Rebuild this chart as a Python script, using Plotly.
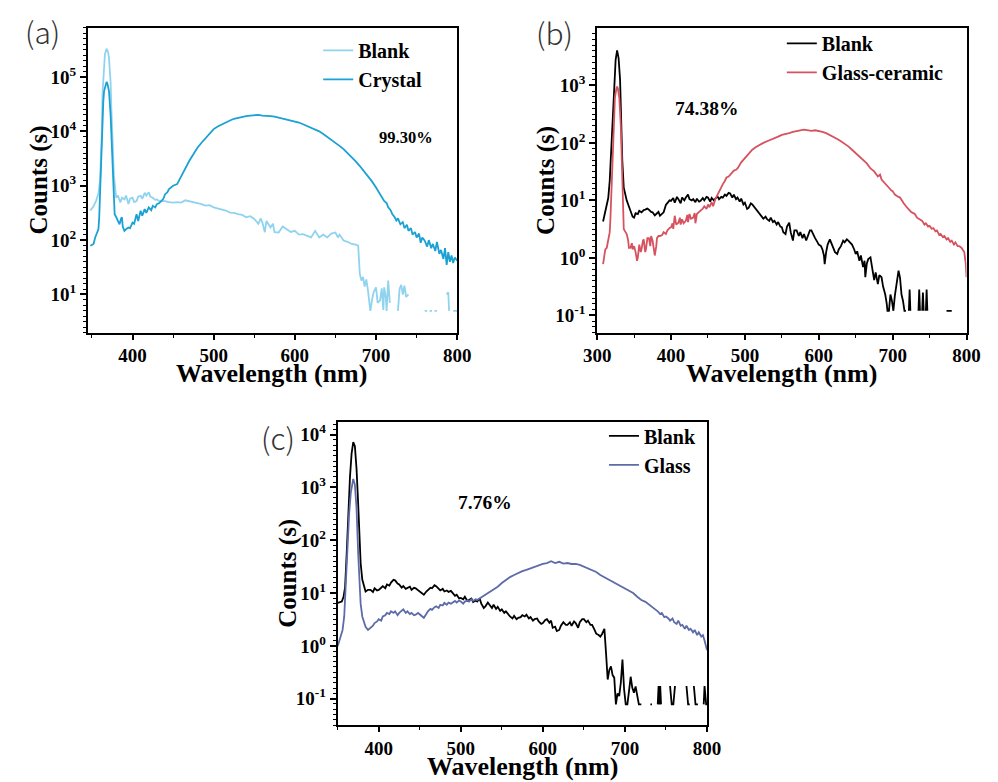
import plotly.graph_objects as go

# ---------------- data ----------------
# Panel (a)
a_blank_wl = [348, 352, 355, 358, 360, 362, 363, 365, 366, 368, 370, 371, 373, 374, 376, 377, 379, 380, 382, 385,
              387, 390, 392, 395, 397, 400, 402, 405, 407, 410, 412, 415, 417, 420, 422, 425, 428, 430, 433, 435,
              440, 445, 450, 455, 460, 465, 470, 475, 480, 485, 490, 495, 500, 505, 510, 515, 520, 525, 530, 535,
              540, 545, 550, 555, 558, 560, 563, 565, 570, 573, 575, 580, 585, 590, 595, 600, 605, 610, 615, 620,
              625, 628, 630, 635, 640, 645, 650, 653, 655, 660, 665, 670, 675, 678, 680, 682, 684, 686, 688, 690,
              692, 693, 695, 697, 700, 702, 705, 707, 709, 710, 712, 713, 715, 717, 718,
              727, 729, 731, 733, 735, 737, 740, 741,
              760, 763, 764, 766, 769, 770, 772, 775, 776,
              787, 789, 790, 791, 795, 800]
a_blank_ct = [350, 420, 520, 710, 1230, 7900, 48000, 160000, 263000, 330000, 282000, 224000, 79000, 25000, 4000, 1580, 790, 600, 660, 490,
              600, 560, 660, 460, 575, 600, 500, 520, 630, 650, 575, 740, 660, 760, 630, 600, 550, 560, 520, 520,
              520, 500, 490, 500, 490, 540, 520, 500, 490, 460, 430, 440, 400, 380, 370, 350, 320, 316, 300, 290,
              263, 275, 245, 200, 250, 210, 140, 225, 170, 200, 140, 138, 178, 158, 141, 148, 126, 129, 120, 112,
              148, 120, 112, 126, 112, 132, 138, 112, 126, 98, 93, 85, 83, 79, 24, 18, 21, 14, 19, 12,
              6.3, 5, 7.9, 11, 13.5, 7, 7.8, 13, 5.2, 13.5, 9, 5, 18, 7, None,
              5, 12.6, 15, 10, 14.5, 9, 10, None,
              5, 5, None, 5, 5, None, 5, 5, None,
              10, 11, 5, None, 5, 5]

a_cry_wl = [348, 350, 352, 354, 356, 358, 359, 361, 362, 364, 365, 367, 368, 369, 371, 373, 374, 376, 377, 378,
            380, 382, 384, 386, 387, 388, 390, 392, 395, 397, 400, 402, 405, 407, 410, 412, 415, 417, 420, 423,
            425, 428, 430, 433, 435, 438, 440, 443, 445, 448, 450, 455, 460, 465, 470, 475, 480, 485, 490, 495,
            500, 505, 510, 515, 520, 525, 530, 535, 540, 545, 550, 555, 560, 565, 570, 575, 580, 585, 590, 595,
            600, 605, 610, 615, 620, 625, 630, 635, 640, 645, 650, 655, 660, 665, 670, 675, 680, 685, 690, 695,
            700, 705, 710, 713, 715, 718, 720, 723, 725, 727, 730, 733, 735, 738, 740, 743, 745, 748, 750, 753,
            755, 757, 760, 763, 765, 768, 770, 773, 775, 778, 780, 783, 785, 787, 789, 791, 793, 795, 797, 800]
a_cry_ct = [79, 83, 85, 112, 129, 158, 263, 2500, 8900, 35000, 55000, 76000, 81000, 76000, 55000, 20000, 8900, 2100, 790, 300,
            263, 224, 195, 250, 263, 178, 148, 158, 170, 166, 209, 200, 300, 224, 347, 282, 372, 316, 398, 355,
            427, 398, 457, 479, 525, 575, 692, 759, 871, 933, 1000, 1070, 1510, 2140, 2880, 3800, 5000, 6170, 7590, 9120,
            11000, 12300, 13500, 14800, 15800, 17000, 17800, 18600, 19100, 19500, 20000, 20000, 19500, 19500, 19100, 18600, 17800, 17400, 16600, 15800,
            15100, 14500, 13500, 12600, 11700, 11000, 10000, 8900, 7900, 7100, 6200, 5400, 4700, 4000, 3400, 2800, 2300, 1860, 1500, 1200,
            930, 710, 525, 480, 400, 355, 300, 263, 229, 251, 195, 214, 166, 191, 148, 166, 126, 141, 112, 132,
            89, 112, 98, 76, 100, 71, 85, 63, 93, 56, 66, 45, 71, 35, 60, 40, 52, 38, 48, 42]

# Panel (b)
b_blank_wl = [308, 311, 313, 315, 317, 319, 321, 323, 325, 327, 329, 331, 333, 334, 336, 338, 340, 342, 344, 346,
              348, 350, 352, 355, 357, 360, 363, 365, 368, 370, 373, 375, 378, 380, 383, 385, 388, 390, 393, 395,
              398, 400, 403, 405, 408, 410, 413, 415, 418, 420, 423, 425, 428, 430, 433, 435, 438, 440, 443, 445,
              448, 450, 453, 455, 458, 460, 463, 465, 468, 470, 473, 475, 478, 480, 483, 485, 488, 490, 493, 495,
              498, 500, 503, 505, 508, 510, 513, 515, 518, 520, 523, 525, 528, 530, 533, 535, 538, 540, 543, 545,
              548, 550, 552, 555, 557, 560, 562, 565, 567, 570, 573, 575, 578, 580, 583, 585, 588, 590, 593, 595,
              598, 600, 603, 605, 607, 608, 610, 612, 615, 617, 620, 622, 625, 627, 630, 633, 635, 638, 640, 643,
              645, 648, 650, 652, 655, 657, 660, 662, 663, 665, 667, 670, 672, 675, 677, 680, 682, 685, 687, 690,
              692, 693, 695, 697, 699, 701, 703, 705, 707, 708, 710, 712, 714, 716, 718, 719,
              722, 723, 724, 725, 735, 736, 737, 738, 740, 741, 742, 743, 745, 746, 747, 748, 773, 780]
b_blank_ct = [4.3, 6.3, 8.3, 11, 22, 79, 355, 1260, 2800, 4070, 3000, 1260, 138, 50, 16.6, 12.6, 10, 8.5, 7.1, 5.8,
              5.2, 5.0, 6.0, 5.8, 6.6, 6.2, 6.8, 6.9, 7.2, 6.9, 6.3, 6.2, 5.5, 5.8, 6.3, 5.4, 5.8, 6.2, 8.3, 9.1,
              10, 9.8, 11, 9.1, 11.5, 10.5, 8.9, 11.2, 10, 11.2, 12.6, 10.5, 10, 10.5, 9.3, 10.7, 9.5, 9.8, 11, 10,
              11.5, 11.2, 9.5, 11, 10, 10.7, 11.7, 10.5, 11.5, 11.2, 12.6, 12, 13.5, 13.2, 11.2, 12.6, 10.5, 11.2, 9.5, 10.7,
              8.5, 9.1, 7.1, 7.4, 8.9, 8.5, 7.6, 6.9, 6.3, 5.8, 5.0, 4.8, 5.2, 4.7, 4.4, 5.0, 4.2, 4.4, 3.8, 4.2,
              3.5, 3.4, 2.8, 2.6, 3.5, 4.1, 2.8, 2.0, 3.0, 3.0, 2.4, 2.8, 2.2, 2.6, 2.0, 2.4, 3.0, 3.0, 2.4, 2.2,
              1.9, 1.7, 1.6, 1.4, 1.1, 0.78, 1.26, 1.7, 2.1, 1.8, 1.5, 1.26, 1.17, 1.4, 1.6, 1.99, 1.86, 2.1, 2.0, 1.8,
              1.7, 1.4, 1.17, 1.3, 0.89, 1.1, 0.69, 0.89, 0.46, 0.79, 0.95, 1.02, 0.71, 0.41, 0.56, 0.35, 0.5, 0.46, 0.32, 0.23,
              0.16, 0.12, 0.12, 0.23, 0.18, 0.12, 0.22, 0.31, 0.5, 0.6, 0.45, 0.23, 0.18, 0.12, 0.12, None,
              0.12, 0.28, 0.12, None, 0.12, 0.28, 0.12, None, 0.12, 0.25, 0.12, None, 0.12, 0.28, 0.12, None, 0.12, 0.12]

b_gc_wl = [308, 310, 311, 313, 315, 317, 318, 320, 321, 323, 324, 326, 327, 328, 330, 332, 333, 334, 335, 336,
           337, 339, 340, 342, 343, 345, 347, 348, 350, 352, 354, 355, 357, 359, 360, 362, 363, 365, 366, 368,
           370, 372, 373, 375, 377, 378, 380, 381, 383, 385, 388, 390, 393, 395, 398, 400, 402, 403, 405, 407,
           410, 412, 413, 415, 417, 420, 422, 423, 425, 427, 430, 432, 433, 435, 438, 440, 443, 445, 448, 450,
           452, 455, 457, 460, 463, 465, 468, 470, 473, 475, 478, 480, 483, 485, 488, 490, 495, 500, 505, 510,
           515, 520, 525, 530, 535, 540, 545, 550, 555, 560, 565, 570, 575, 580, 585, 590, 595, 600, 605, 610,
           615, 620, 625, 630, 635, 640, 645, 650, 655, 660, 665, 670, 675, 680, 683, 685, 688, 690, 693, 695,
           698, 700, 703, 705, 708, 710, 713, 715, 718, 720, 723, 725, 728, 730, 733, 735, 738, 740, 743, 745,
           748, 750, 753, 755, 758, 760, 763, 765, 768, 770, 773, 775, 778, 780, 783, 785, 788, 790, 793, 795,
           797, 799, 800]
b_gc_ct = [0.78, 1.26, 1.4, 1.5, 2.0, 2.8, 5.0, 20, 71, 280, 600, 890, 955, 890, 600, 200, 71, 16, 6.6, 3.2,
           3.0, 2.7, 2.6, 2.0, 1.5, 1.5, 1.8, 1.4, 1.6, 1.26, 0.89, 1.0, 1.7, 1.26, 1.4, 2.0, 2.1, 1.26, 1.4, 2.2,
           2.2, 1.6, 2.4, 2.0, 1.4, 1.1, 1.6, 2.2, 2.4, 2.4, 2.5, 2.8, 2.6, 3.0, 3.3, 3.4, 4.0, 3.2, 5.4, 3.8,
           4.1, 5.0, 3.8, 4.7, 4.0, 4.4, 5.6, 4.2, 5.8, 4.8, 5.0, 6.0, 4.0, 5.8, 6.3, 6.6, 7.2, 7.9, 7.1, 8.5,
           7.6, 9.3, 7.9, 10.5, 12.6, 14, 18, 19, 22, 25, 26, 28, 30, 33, 34, 36, 46, 55, 66, 76,
           85, 93, 100, 107, 115, 123, 129, 138, 141, 148, 155, 158, 166, 170, 166, 162, 166, 162, 155, 148,
           138, 129, 117, 107, 98, 87, 76, 66, 59, 51, 44, 36, 32, 26, 28, 23, 21, 20, 18, 16.6,
           15, 14.5, 12.6, 12.3, 11.5, 11.2, 9.5, 8.9, 7.9, 7.4, 6.6, 6.3, 6.0, 5.8, 5.0, 4.8, 4.6, 4.4, 3.8, 4.0,
           3.5, 3.6, 3.2, 3.3, 2.9, 3.0, 2.5, 2.6, 2.3, 2.4, 2.1, 2.2, 1.9, 2.0, 1.7, 1.86, 1.6, 1.6, 1.5, 1.4,
           1.26, 0.79, 0.46]

# Panel (c)
c_blank_wl = [350, 352, 355, 357, 359, 361, 363, 365, 367, 369, 371, 373, 375, 377, 378, 380, 381, 383, 384, 387,
              390, 393, 395, 398, 400, 403, 405, 408, 410, 413, 415, 418, 420, 423, 425, 428, 430, 433, 435, 438,
              440, 443, 445, 448, 450, 453, 455, 458, 460, 463, 465, 468, 470, 473, 475, 478, 480, 483, 485, 488,
              490, 493, 495, 498, 500, 503, 505, 508, 510, 513, 515, 518, 520, 523, 525, 528, 530, 533, 535, 538,
              540, 543, 545, 548, 550, 553, 555, 558, 560, 563, 565, 568, 570, 573, 575, 578, 580, 583, 585, 588,
              590, 593, 595, 598, 600, 603, 605, 608, 610, 612, 615, 617, 620, 622, 625, 628, 630, 633, 635, 638,
              640, 643, 645, 648, 650, 653, 655, 658, 660, 663, 665, 668, 670, 672, 675, 677, 679, 681, 683, 685,
              687, 689, 691, 693, 695, 697, 699, 701, 703, 705, 707, 709, 711, 713, 715, 717, 720, 721,
              731, 733, 734, 740, 741, 742, 743, 744, 745, 755, 757, 759, 761, 762,
              775, 777, 779, 780, 784, 786, 789, 790, 796, 797, 799, 800]
c_blank_ct = [6.5, 6.6, 6.9, 8.3, 12.6, 56, 400, 1580, 4400, 7200, 6000, 2240, 490, 79, 37, 18, 15.5, 11.5, 10.7, 11.5,
              11.5, 10.5, 12.3, 11.2, 11.5, 12.6, 13.5, 12.3, 14.5, 13.8, 15.8, 17.8, 17.4, 15.1, 14.5, 12.6, 13.5, 12, 12.3, 13.2,
              11.5, 12.6, 12.3, 11.2, 10.7, 9.5, 9.3, 10.7, 11.5, 12.6, 12.3, 14.1, 13.5, 12, 11.2, 12, 10.7, 11.2, 10.5, 11,
              10, 8.9, 9.3, 7.9, 8.1, 7.6, 8.5, 7.1, 7.4, 7.9, 6.8, 7.2, 6.9, 7.9, 6.3, 5.2, 5.6, 6.6, 6.0, 5.2,
              6.0, 5.0, 5.5, 4.6, 4.9, 4.2, 4.5, 3.8, 3.6, 3.3, 3.7, 3.2, 3.4, 3.5, 3.8, 3.6, 3.9, 3.3, 3.5, 3.0,
              3.2, 3.3, 2.9, 2.6, 2.7, 3.1, 3.2, 2.75, 3.0, 2.2, 2.3, 1.9, 2.0, 2.4, 2.8, 2.5, 2.5, 2.8, 2.4, 2.9,
              2.7, 2.2, 2.8, 3.2, 3.2, 2.8, 3.0, 2.5, 2.5, 2.0, 1.7, 1.6, 1.5, 1.66, 2.1, 0.72, 0.23, 0.35, 0.41, 0.28,
              0.25, 0.078, 0.126, 0.112, 0.2, 0.55, 0.15, 0.078, 0.078, 0.14, 0.26, 0.16, 0.13, 0.17, 0.11, 0.078, 0.078, None,
              0.078, 0.078, None, 0.078, 0.174, 0.078, 0.174, 0.078, None, 0.174, 0.078, 0.078, 0.174, None,
              0.174, 0.078, 0.078, None, 0.174, 0.078, 0.078, None, 0.078, 0.174, 0.078, 0.078]

c_glass_wl = [350, 352, 354, 356, 358, 360, 362, 364, 366, 368, 369, 371, 373, 375, 377, 378, 380, 382, 384, 387,
              390, 393, 395, 398, 400, 403, 405, 408, 410, 413, 415, 418, 420, 423, 425, 428, 430, 433, 435, 438,
              440, 443, 445, 448, 450, 453, 455, 458, 460, 463, 465, 468, 470, 473, 475, 478, 480, 483, 485, 488,
              490, 493, 495, 498, 500, 503, 505, 508, 510, 513, 515, 518, 520, 525, 530, 535, 540, 545, 550, 555,
              560, 565, 570, 575, 580, 585, 590, 595, 600, 605, 610, 615, 620, 625, 630, 635, 640, 645, 650, 655,
              660, 665, 670, 675, 680, 685, 690, 695, 700, 705, 710, 715, 720, 725, 730, 735, 740, 743, 745, 748,
              750, 753, 755, 758, 760, 763, 765, 768, 770, 773, 775, 778, 780, 783, 785, 788, 790, 793, 795, 797,
              800]
c_glass_ct = [0.98, 1.26, 1.5, 2.0, 3.6, 16, 100, 320, 790, 1320, 1450, 1120, 400, 56, 10, 6.3, 3.6, 2.8, 2.3, 2.0,
              2.2, 2.4, 2.7, 2.9, 3.2, 3.0, 3.6, 3.8, 4.2, 4.0, 4.5, 4.2, 4.5, 3.8, 4.2, 4.7, 4.9, 4.2, 4.5, 4.0,
              4.2, 3.8, 3.9, 4.2, 3.9, 3.5, 3.4, 4.0, 4.5, 5.0, 4.8, 5.4, 5.6, 5.2, 6.0, 5.8, 6.5, 6.0, 6.6, 6.3,
              6.6, 7.1, 6.6, 7.2, 6.9, 6.3, 6.9, 7.2, 6.9, 7.6, 7.1, 7.6, 7.4, 8.3, 9.3, 10.5, 11.5, 13.2, 15.5, 17.8,
              20, 22, 24, 26, 27.5, 29.5, 31.6, 33, 35.5, 37, 40, 37, 39, 36, 37, 35.5, 35.5, 34, 31.6, 29.5,
              27, 25, 22, 20, 17.8, 16.2, 14.5, 13.2, 12.3, 11, 10, 8.5, 7.4, 6.8, 6.0, 5.2, 4.5, 4.0, 4.2, 3.5,
              3.6, 3.3, 3.0, 3.3, 2.8, 2.6, 3.0, 2.4, 2.5, 2.1, 2.4, 2.0, 2.1, 1.8, 2.0, 1.6, 1.8, 1.5, 1.6, 1.26,
              0.83]

# labels
a_names = ["Blank", "Crystal"]
b_names = ["Blank", "Glass-ceramic"]
c_names = ["Blank", "Glass"]
a_pct, b_pct, c_pct = "99.30%", "74.38%", "7.76%"
panel_tags = ["(a)", "(b)", "(c)"]
x_title = "Wavelength (nm)"
y_title = "Counts (s)"

# ---------------- styling ----------------
W, H = 998, 782
SERIF = "Liberation Serif"
C_A_BLANK, C_A_CRY = "#90d3ee", "#1ba1d3"
C_BLACK, C_GC, C_GLASS = "#000000", "#d6525f", "#5e6ba9"


def dx(px):
    return px / W


def dy(py):
    return 1 - py / H


boxes = {  # left, right, top, bottom in pixels
    "a": (76, 456, 27, 332),
    "b": (600, 980, 27, 332),
    "c": (333, 713, 422, 725),
}

fig = go.Figure()


def add(x, y, name, color, axis_suffix, legend):
    fig.add_trace(go.Scatter(
        x=x, y=y, name=name, mode="lines",
        line=dict(color=color, width=1.8),
        connectgaps=False,
        xaxis="x" + axis_suffix, yaxis="y" + axis_suffix, legend=legend,
    ))


add(a_blank_wl, a_blank_ct, a_names[0], C_A_BLANK, "", "legend")
add(a_cry_wl, a_cry_ct, a_names[1], C_A_CRY, "", "legend")
add(b_blank_wl, b_blank_ct, b_names[0], C_BLACK, "2", "legend2")
add(b_gc_wl, b_gc_ct, b_names[1], C_GC, "2", "legend2")
add(c_blank_wl, c_blank_ct, c_names[0], C_BLACK, "3", "legend3")
add(c_glass_wl, c_glass_ct, c_names[1], C_GLASS, "3", "legend3")


def sup(n):
    return "10<sup>%d</sup>" % n


def yaxis(box, lo, hi, exps):
    l, r, t, b = box
    minor_vals = []
    for e in range(int(lo) - 2, int(hi) + 1):
        for k in range(1, 10):
            minor_vals.append(10 ** (e + k / 10))
    return dict(
        type="log", range=[lo, hi], domain=[dy(b), dy(t)],
        tickmode="array", tickvals=[10 ** e for e in exps], ticktext=[sup(e) for e in exps],
        ticks="outside", ticklen=6, tickwidth=2, tickcolor="black",
        minor=dict(tickmode="array", tickvals=minor_vals, ticks="outside", ticklen=3, tickwidth=1.2,
                   tickcolor="black", showgrid=False),
        showline=True, linecolor="black", linewidth=2, mirror=True,
        showgrid=False, zeroline=False,
        tickfont=dict(family=SERIF, size=19, color="black", weight="bold"),
    )


def xaxis(box, lo, hi, vals):
    l, r, t, b = box
    return dict(
        range=[lo, hi], domain=[dx(l), dx(r)],
        tickmode="array", tickvals=vals, ticktext=[str(v) for v in vals],
        ticks="outside", ticklen=5, tickwidth=2, tickcolor="black",
        minor=dict(dtick=50, tick0=0, ticks="outside", ticklen=3, tickwidth=1.2, tickcolor="black",
                   showgrid=False),
        showline=True, linecolor="black", linewidth=2, mirror=True,
        showgrid=False, zeroline=False,
        tickfont=dict(family=SERIF, size=19, color="black", weight="bold"),
    )


def legend(x_px, y_px):
    return dict(
        x=dx(x_px), y=dy(y_px), xanchor="left", yanchor="top",
        bgcolor="rgba(0,0,0,0)", borderwidth=0,
        font=dict(family=SERIF, size=20, color="black", weight="bold"),
        tracegroupgap=0, itemwidth=30,
    )


fig.update_layout(
    width=W, height=H, autosize=False, margin=dict(l=0, r=0, t=0, b=0),
    paper_bgcolor="white", plot_bgcolor="white",
    showlegend=True,
    xaxis=xaxis(boxes["a"], 345, 800, [400, 500, 600, 700, 800]),
    yaxis=yaxis(boxes["a"], 0.3, 5.9, [1, 2, 3, 4, 5]),
    xaxis2=dict(xaxis(boxes["b"], 300, 800, [300, 400, 500, 600, 700, 800]), anchor="y2"),
    yaxis2=dict(yaxis(boxes["b"], -1.3, 4.0, [-1, 0, 1, 2, 3]), anchor="x2"),
    xaxis3=dict(xaxis(boxes["c"], 350, 800, [400, 500, 600, 700, 800]), anchor="y3"),
    yaxis3=dict(yaxis(boxes["c"], -1.5, 4.23, [-1, 0, 1, 2, 3, 4]), anchor="x3"),
    legend=legend(313, 30),
    legend2=legend(790, 23),
    legend3=legend(607, 416),
)

annos = []
# percentage labels
for txt, x, y, size in [(a_pct, 403, 137, 16.5), (b_pct, 712, 108, 19.5), (c_pct, 485, 502, 19.5)]:
    annos.append(dict(text=txt, x=dx(x), y=dy(y), xref="paper", yref="paper", showarrow=False,
                      xanchor="center", yanchor="middle",
                      font=dict(family=SERIF, size=size, color="black", weight="bold")))
# panel tags
for txt, x, y in [(panel_tags[0], 29, 30), (panel_tags[1], 556, 31), (panel_tags[2], 272, 437)]:
    annos.append(dict(text=txt, x=dx(x), y=dy(y), xref="paper", yref="paper", showarrow=False,
                      xanchor="center", yanchor="middle",
                      font=dict(family="Noto Sans CJK SC", size=30, color="#333333", weight=300)))
# axis titles
for (l, r, t, b), xc, yc in [(boxes["a"], 265, 26), (boxes["b"], 790, 548), (boxes["c"], 523, 282)]:
    annos.append(dict(text=x_title, x=dx(xc), y=dy(b + 41), xref="paper", yref="paper", showarrow=False,
                      xanchor="center", yanchor="middle",
                      font=dict(family=SERIF, size=26, color="black", weight="bold")))
    annos.append(dict(text=y_title, x=dx(yc), y=dy((t + b) / 2), xref="paper", yref="paper", showarrow=False,
                      xanchor="center", yanchor="middle", textangle=-90,
                      font=dict(family=SERIF, size=25, color="black", weight="bold")))
fig.update_layout(annotations=annos)

fig.write_html("out.html", config={"responsive": False})
